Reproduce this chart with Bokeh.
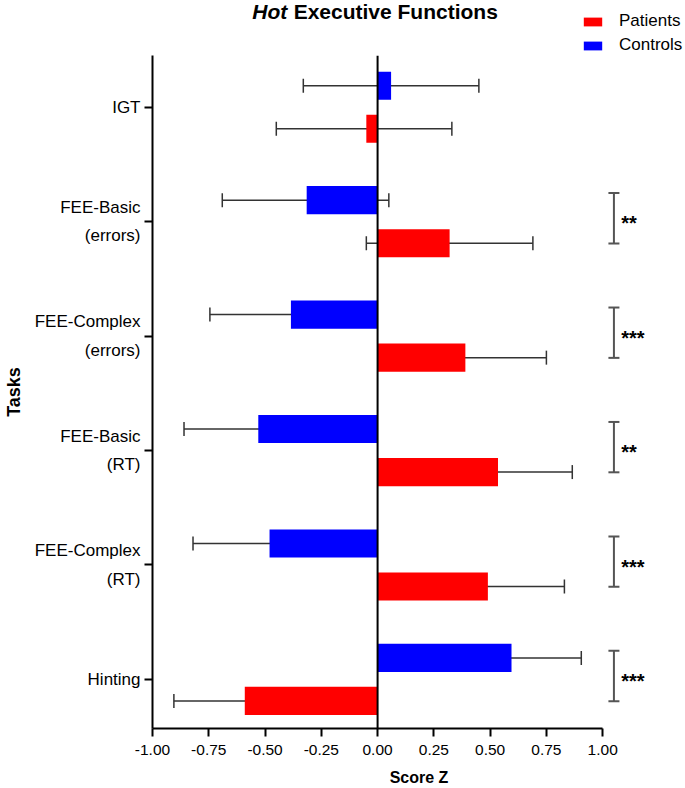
from bokeh.plotting import figure
from bokeh.layouts import column
from bokeh.models import (ColumnDataSource, Whisker, TeeHead, Legend, LegendItem,
                          Span, FixedTicker, NumeralTickFormatter, Range1d)
from bokeh.core.properties import value
from bokeh.embed import file_html
from bokeh.resources import INLINE

# ---------------- data ----------------
tasks = ["IGT", "FEE-Basic", "FEE-Complex", "FEE-Basic", "FEE-Complex", "Hinting"]
task_notes = ["", "(errors)", "(errors)", "(RT)", "(RT)", ""]
patients = [-0.05, 0.32, 0.39, 0.535, 0.49, -0.59]
patients_lo = [-0.45, -0.05, 0.03, 0.205, 0.145, -0.905]
patients_hi = [0.33, 0.69, 0.75, 0.865, 0.83, -0.28]
controls = [0.06, -0.315, -0.385, -0.53, -0.48, 0.595]
controls_lo = [-0.33, -0.69, -0.745, -0.86, -0.82, 0.28]
controls_hi = [0.45, 0.05, -0.025, -0.205, -0.14, 0.905]
significance = ["", "**", "***", "**", "***", "***"]
x_ticks = [-1.0, -0.75, -0.5, -0.25, 0.0, 0.25, 0.5, 0.75, 1.0]
series_names = ["Patients", "Controls"]
series_colors = ["#FF0000", "#0000FF"]
title_parts = ["Hot", "Executive Functions"]

# ---------------- layout constants ----------------
FONT = "Liberation Sans"
W = 685
HEAD_H = 55
MAIN_H = 733
X_RANGE = (-1.0, 1.368)
n = len(tasks)
ypos = list(range(n - 1, -1, -1))
DY = 0.188
BAR_H = 0.246
BRACKET_X = 1.05
BRACKET_TOP = 0.25
BRACKET_BOT = -0.19

src_p = ColumnDataSource(dict(y=[t - DY for t in ypos], v=patients,
                              lo=patients_lo, hi=patients_hi))
src_c = ColumnDataSource(dict(y=[t + DY for t in ypos], v=controls,
                              lo=controls_lo, hi=controls_hi))

# ================= header (title + legend) =================
# (the column layout aligns this frame with the main chart's frame)
head = figure(width=W, height=HEAD_H, x_range=Range1d(*X_RANGE), y_range=Range1d(HEAD_H, 0),
              output_backend="svg", toolbar_location=None,
              x_axis_location=None, y_axis_location=None,
              min_border_left=152, min_border_right=0, min_border_top=0, min_border_bottom=0)
head.outline_line_color = None
head.xgrid.visible = False
head.ygrid.visible = False

head.text(x=[-0.557], y=[10.5], text=[title_parts[0]], text_font=value(FONT),
          text_font_style="bold italic", text_font_size="21px",
          text_align="left", text_baseline="middle", text_color="black")
head.text(x=[-0.373], y=[10.5], text=[title_parts[1]], text_font=value(FONT),
          text_font_style="bold", text_font_size="21px",
          text_align="left", text_baseline="middle", text_color="black")

leg_items = []
for name, col, src in zip(series_names, series_colors, (src_p, src_c)):
    # legend proxies: same data, not drawn in the header itself
    r = head.hbar(y="y", left=0, right="v", height=BAR_H, source=src,
                  fill_color=col, line_color=None, visible=False)
    leg_items.append(LegendItem(label=name, renderers=[r]))
legend = Legend(items=leg_items, location=(429, 0), orientation="vertical",
                border_line_color=None, background_fill_alpha=0,
                inactive_fill_alpha=0,
                padding=0, margin=0, glyph_width=23, glyph_height=11,
                label_standoff=15, spacing=4, label_height=20,
                label_text_font=FONT, label_text_font_size="17px",
                label_text_color="black")
head.add_layout(legend, "center")

# ================= main chart =================
p = figure(width=W, height=MAIN_H,
           x_range=X_RANGE, y_range=(-0.429, 5.4525),
           output_backend="svg", toolbar_location=None,
           min_border_left=152, min_border_top=0, min_border_right=0,
           min_border_bottom=57)
p.outline_line_color = None
p.xgrid.visible = False
p.ygrid.visible = False

p.hbar(y="y", left=0, right="v", height=BAR_H, source=src_p,
       fill_color=series_colors[0], line_color=None)
p.hbar(y="y", left=0, right="v", height=BAR_H, source=src_c,
       fill_color=series_colors[1], line_color=None)

# zero line
p.add_layout(Span(location=0, dimension="height", line_color="black", line_width=2))

# error bars
for src in (src_p, src_c):
    p.add_layout(Whisker(base="y", lower="lo", upper="hi", dimension="width", source=src,
                         line_color="#333333", line_width=1.5,
                         lower_head=TeeHead(size=14, line_color="#333333", line_width=1.5),
                         upper_head=TeeHead(size=14, line_color="#333333", line_width=1.5)))

# significance brackets
sig_y = [t for t, s in zip(ypos, significance) if s]
sig_s = [s for s in significance if s]
src_sig = ColumnDataSource(dict(x=[BRACKET_X] * len(sig_y),
                                lo=[t + BRACKET_BOT for t in sig_y],
                                hi=[t + BRACKET_TOP for t in sig_y],
                                ym=[t + (BRACKET_TOP + BRACKET_BOT) / 2 for t in sig_y],
                                xs=[BRACKET_X + 0.032] * len(sig_y),
                                s=sig_s))
p.add_layout(Whisker(base="x", lower="lo", upper="hi", dimension="height", source=src_sig,
                     line_color="#555555", line_width=2,
                     lower_head=TeeHead(size=11, line_color="#555555", line_width=2),
                     upper_head=TeeHead(size=11, line_color="#555555", line_width=2)))
p.text(x="xs", y="ym", text="s", source=src_sig, text_font=value(FONT),
       text_font_style="bold", text_font_size="20px", text_align="left",
       text_baseline="middle", y_offset=5, text_color="black")

# x axis
p.xaxis.ticker = FixedTicker(ticks=x_ticks)
p.xaxis.formatter = NumeralTickFormatter(format="0.00")
p.xaxis.bounds = (x_ticks[0], x_ticks[-1])
p.xaxis.axis_label = "Score Z"
p.xaxis.axis_label_text_font = FONT
p.xaxis.axis_label_text_font_style = "bold"
p.xaxis.axis_label_text_font_size = "16px"
p.xaxis.axis_label_text_color = "black"
p.xaxis.axis_label_standoff = 11
p.xaxis.major_label_text_font = FONT
p.xaxis.major_label_text_font_size = "15.5px"
p.xaxis.major_label_text_color = "black"
p.xaxis.major_label_standoff = 8
p.xaxis.axis_line_width = 2
p.xaxis.major_tick_line_width = 2
p.xaxis.major_tick_out = 8
p.xaxis.major_tick_in = 0
p.xaxis.minor_tick_line_color = None

# y axis
p.yaxis.ticker = FixedTicker(ticks=ypos)
p.yaxis.major_label_overrides = {t: (name + "\n" + note if note else name)
                                 for t, name, note in zip(ypos, tasks, task_notes)}
p.yaxis.axis_label = "Tasks"
p.yaxis.axis_label_text_font = FONT
p.yaxis.axis_label_text_font_style = "bold"
p.yaxis.axis_label_text_font_size = "18px"
p.yaxis.axis_label_text_color = "black"
p.yaxis.axis_label_standoff = 8
p.yaxis.major_label_text_font = FONT
p.yaxis.major_label_text_font_size = "17px"
p.yaxis.major_label_text_line_height = 1.5
p.yaxis.major_label_text_color = "black"
p.yaxis.major_label_standoff = 4
p.yaxis.axis_line_width = 2
p.yaxis.major_tick_line_width = 2
p.yaxis.major_tick_out = 8
p.yaxis.major_tick_in = 0
p.yaxis.minor_tick_line_color = None

layout = column(head, p, spacing=0)
open("out.html", "w").write(file_html(layout, INLINE))
